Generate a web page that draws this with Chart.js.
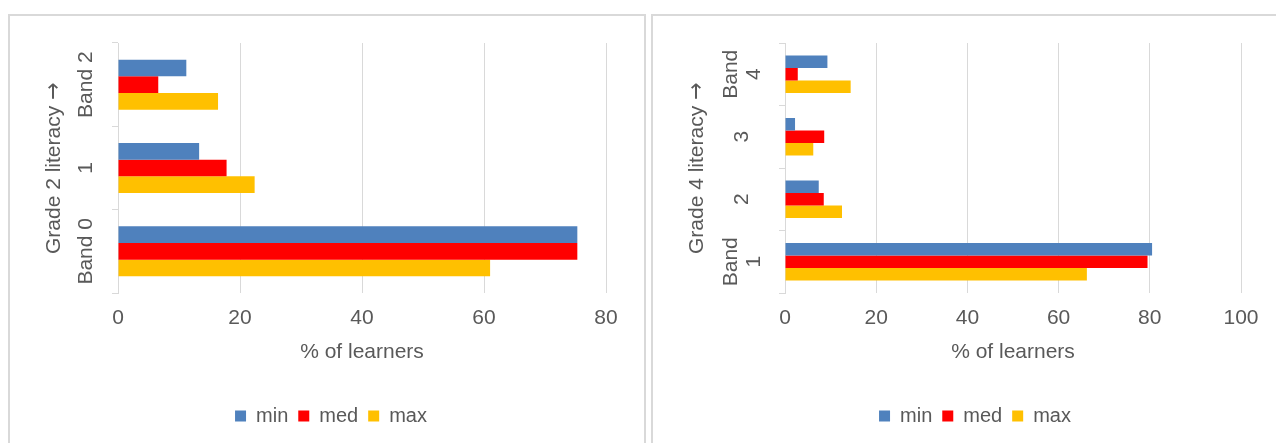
<!DOCTYPE html>
<html><head><meta charset="utf-8">
<script src="https://cdn.jsdelivr.net/npm/chart.js@4.4.0/dist/chart.umd.min.js"></script>
<style>
@font-face{font-family:'ArrowFix';src:local('DejaVu Sans'),local('DejaVuSans');unicode-range:U+2192;}
html,body{margin:0;padding:0;background:#fff;width:1276px;height:443px;overflow:hidden;position:relative}
.box{position:absolute;top:14px;border:2px solid #d9d9d9;border-bottom:none;box-sizing:border-box;height:460px}
#b1{left:8px;width:638px}
#b2{left:651px;width:700px}
canvas{position:absolute}
#c1{left:30px;top:16px}
#c2{left:680px;top:16px}
</style></head><body>
<div class="box" id="b1"></div><div class="box" id="b2"></div>
<canvas id="c1" width="594" height="440"></canvas>
<canvas id="c2" width="585" height="440"></canvas>
<script>
// ---- data ----
const seriesNames = ['min', 'med', 'max'];

const grade2Bands = ['Band 0', '1', 'Band 2'];
const grade2Min = [75.3, 13.3, 11.2];
const grade2Med = [75.3, 17.8, 6.6];
const grade2Max = [61.0, 22.4, 16.4];
const grade2XTicks = [0, 20, 40, 60, 80];

const grade4Bands = [['Band', '1'], '2', '3', ['Band', '4']];
const grade4Min = [80.5, 7.4, 2.2, 9.3];
const grade4Med = [79.5, 8.5, 8.6, 2.8];
const grade4Max = [66.2, 12.5, 6.2, 14.4];
const grade4XTicks = [0, 20, 40, 60, 80, 100];

const xTitle = '% of learners';
const grade2YTitle = 'Grade 2 literacy \u2192';
const grade4YTitle = 'Grade 4 literacy \u2192';

// ---- styling ----
const COLORS = ['#4F81BD', '#FF0000', '#FFC000'];
const TXT = '#595959';
const GRID = '#d9d9d9';
const FONT = "'Liberation Sans', Arial, sans-serif";
const TITLE_FONT = "'ArrowFix', 'Liberation Sans', Arial, sans-serif";

function makeChart(id, labels, values, xTicks, yTitle, geo) {
  const datasets = seriesNames.map((n, i) => ({
    label: n,
    data: values[i],
    backgroundColor: COLORS[i],
    borderWidth: 0,
    categoryPercentage: 0.6,
    barPercentage: 1.0
  }));
  return new Chart(document.getElementById(id), {
    type: 'bar',
    data: { labels: labels, datasets: datasets },
    options: {
      indexAxis: 'y',
      responsive: false,
      animation: false,
      events: [],
      layout: { padding: { left: geo.pl, right: geo.pr, top: 27, bottom: 20 } },
      plugins: {
        legend: {
          position: 'bottom',
          labels: {
            boxWidth: 11, boxHeight: 11, padding: 10,
            color: TXT, font: { family: FONT, size: 20 }
          }
        },
        tooltip: { enabled: false }
      },
      scales: {
        x: {
          min: xTicks[0],
          max: xTicks[xTicks.length - 1],
          afterBuildTicks: (s) => { s.ticks = xTicks.map(v => ({ value: v })); },
          afterFit: (s) => { s.height = 103; s.paddingLeft = 0; s.paddingRight = 0; },
          ticks: { color: TXT, font: { family: FONT, size: 21 }, padding: 12.4 },
          grid: { color: GRID, lineWidth: 1, drawTicks: false },
          border: { display: false },
          title: {
            display: true, text: xTitle, color: TXT,
            font: { family: FONT, size: 21 }, padding: { top: 0, bottom: 31.4 }
          }
        },
        y: {
          reverse: true,
          afterFit: (s) => { s.width = geo.yw; s.paddingTop = 0; s.paddingBottom = 0; },
          ticks: {
            color: TXT, font: { family: FONT, size: 21, lineHeight: 1.1 },
            minRotation: 90, maxRotation: 90, crossAlign: 'center', padding: geo.ytp
          },
          grid: { display: true, drawOnChartArea: false, drawTicks: true, tickLength: 6, color: GRID },
          border: { display: true, color: GRID, width: 1 },
          title: {
            display: true, text: yTitle, color: TXT,
            font: { family: TITLE_FONT, size: 21 }, padding: { top: geo.ttp, bottom: 0 }
          }
        }
      }
    }
  });
}

function drawAll() {
  makeChart('c1', grade2Bands, [grade2Min, grade2Med, grade2Max], grade2XTicks, grade2YTitle,
    { pl: 26, pr: 18, yw: 62, ytp: -7.9, ttp: -14.3 });
  makeChart('c2', grade4Bands, [grade4Min, grade4Med, grade4Max], grade4XTicks, grade4YTitle,
    { pl: 29, pr: 24, yw: 76, ytp: 11.9, ttp: -24 });
}

let done = false;
function once() { if (!done) { done = true; drawAll(); } }
if (document.fonts && document.fonts.load) {
  document.fonts.load("21px 'ArrowFix'", '\u2192').then(once, once);
  setTimeout(once, 1500);
} else {
  once();
}
</script>
</body></html>
